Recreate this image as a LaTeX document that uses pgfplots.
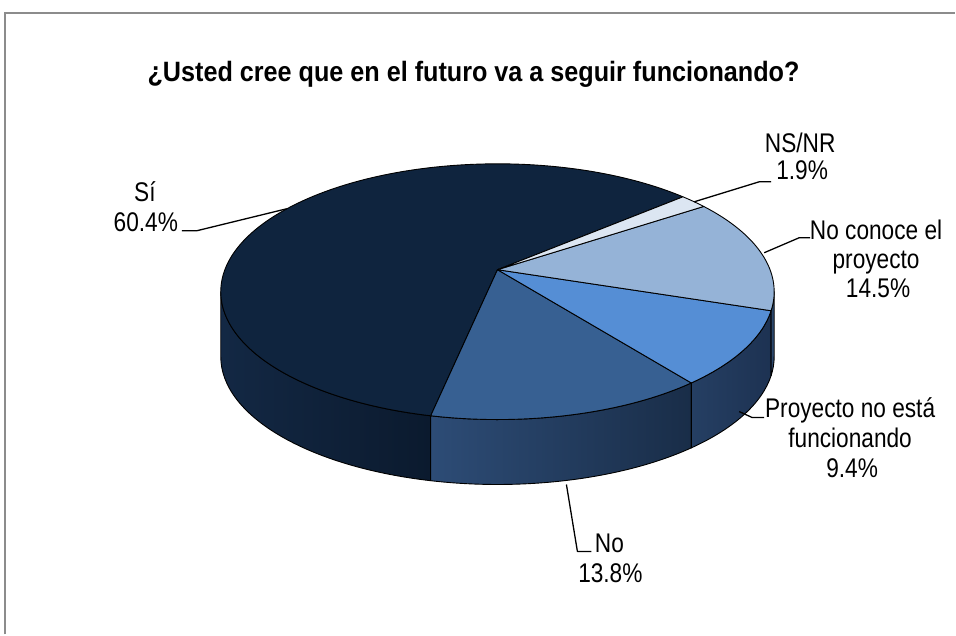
\documentclass[border=0pt]{standalone}
\usepackage{pgfplots}
\pgfplotsset{compat=1.18}
\usepackage{pgfplotstable}
\usepackage{fontspec}
\setmainfont{Liberation Sans}
\newfontfamily\titlefont{Liberation Sans}[FakeStretch=0.9]
\newfontfamily\lblfont{Liberation Sans}[FakeStretch=0.84]

% top colours
\definecolor{top0}{HTML}{0F243E}
\definecolor{top1}{HTML}{376092}
\definecolor{top2}{HTML}{558ED5}
\definecolor{top3}{HTML}{95B3D7}
\definecolor{top4}{HTML}{DCE6F2}
% side colours (left / right of gradient)
\definecolor{sl0}{HTML}{132844}
\definecolor{sr0}{HTML}{0B1A2E}
\definecolor{sl1}{HTML}{2D4C76}
\definecolor{sr1}{HTML}{192D48}
\definecolor{sl2}{HTML}{253F63}
\definecolor{sr2}{HTML}{1D3252}
\definecolor{sl3}{HTML}{2E4A70}
\definecolor{sr3}{HTML}{253E60}
\definecolor{sl4}{HTML}{8A9BB0}
\definecolor{sr4}{HTML}{8A9BB0}
\definecolor{framegray}{HTML}{8C8C8C}

\pgfplotstableread{
label value
Si 60.4
No 13.8
Proyecto 9.4
NoConoce 14.5
NSNR 1.9
}\piedata

\begin{document}
\begin{tikzpicture}
\begin{axis}[
  x=1pt, y=1pt,
  xmin=0, xmax=956, ymin=0, ymax=635,
  hide axis, clip=false,
  scale only axis,
]
% full canvas
\path (axis cs:0,0) rectangle (axis cs:956,635);
% frame (only left and top visible)
\draw[framegray, line width=2pt] (axis cs:5,0) -- (axis cs:5,622) -- (axis cs:956,622);

\pgfplotsextra{
  \def\cx{498}\def\cy{343}\def\rx{277}\def\ry{128}\def\dep{65}\def\vv{0.172}
  \pgfmathsetmacro{\gam}{sqrt(1-\vv*\vv)}
  \pgfmathsetmacro{\apy}{\cy+\vv*\ry}
  \pgfplotstablegetrowsof{\piedata}
  \pgfmathtruncatemacro{\nrows}{\pgfplotsretval-1}
  % side walls
  \xdef\acc{40.8}
  \foreach \i in {0,...,\nrows}{
    \pgfplotstablegetelem{\i}{value}\of\piedata
    \let\val\pgfplotsretval
    \pgfmathsetmacro{\ta}{\acc}
    \pgfmathsetmacro{\tb}{\acc+3.6*\val}
    \xdef\acc{\tb}
    \pgfmathsetmacro{\pa}{atan2((sin(\ta)+\vv)/(1+\vv*sin(\ta)), cos(\ta)*\gam/(1+\vv*sin(\ta)))}
    \pgfmathsetmacro{\pbraw}{atan2((sin(\tb)+\vv)/(1+\vv*sin(\tb)), cos(\tb)*\gam/(1+\vv*sin(\tb)))}
    \pgfmathsetmacro{\pb}{\pa+mod(\pbraw-\pa+720,360)}
    % window [180,360]
    \pgfmathsetmacro{\lo}{max(\pa,180)}
    \pgfmathsetmacro{\hi}{min(\pb,360)}
    \pgfmathtruncatemacro{\vis}{\hi>\lo+0.01}
    \ifnum\vis=1
      \pgfmathsetmacro{\xl}{\cx+\rx*cos(\lo)}
      \pgfmathsetmacro{\yl}{\cy+\ry*sin(\lo)}
      \shadedraw[left color=sl\i, right color=sr\i, draw=black, line width=0.9pt, line join=round]
        (axis cs:\xl,\yl) arc[start angle=\lo, end angle=\hi, x radius=\rx pt, y radius=\ry pt]
        -- ++(0pt,-\dep pt) arc[start angle=\hi, end angle=\lo, x radius=\rx pt, y radius=\ry pt] -- cycle;
    \fi
    % window [-180,0]
    \pgfmathsetmacro{\lo}{max(\pa,-180)}
    \pgfmathsetmacro{\hi}{min(\pb,0)}
    \pgfmathtruncatemacro{\vis}{\hi>\lo+0.01}
    \ifnum\vis=1
      \pgfmathsetmacro{\xl}{\cx+\rx*cos(\lo)}
      \pgfmathsetmacro{\yl}{\cy+\ry*sin(\lo)}
      \shadedraw[left color=sl\i, right color=sr\i, draw=black, line width=0.9pt, line join=round]
        (axis cs:\xl,\yl) arc[start angle=\lo, end angle=\hi, x radius=\rx pt, y radius=\ry pt]
        -- ++(0pt,-\dep pt) arc[start angle=\hi, end angle=\lo, x radius=\rx pt, y radius=\ry pt] -- cycle;
    \fi
  }
  % top faces
  \xdef\acc{40.8}
  \foreach \i in {0,...,\nrows}{
    \pgfplotstablegetelem{\i}{value}\of\piedata
    \let\val\pgfplotsretval
    \pgfmathsetmacro{\ta}{\acc}
    \pgfmathsetmacro{\tb}{\acc+3.6*\val}
    \xdef\acc{\tb}
    \pgfmathsetmacro{\pa}{atan2((sin(\ta)+\vv)/(1+\vv*sin(\ta)), cos(\ta)*\gam/(1+\vv*sin(\ta)))}
    \pgfmathsetmacro{\pbraw}{atan2((sin(\tb)+\vv)/(1+\vv*sin(\tb)), cos(\tb)*\gam/(1+\vv*sin(\tb)))}
    \pgfmathsetmacro{\pb}{\pa+mod(\pbraw-\pa+720,360)}
    \pgfmathsetmacro{\xa}{\cx+\rx*cos(\pa)}
    \pgfmathsetmacro{\ya}{\cy+\ry*sin(\pa)}
    \filldraw[fill=top\i, draw=black, line width=0.9pt, line join=round]
      (axis cs:\cx,\apy) -- (axis cs:\xa,\ya)
      arc[start angle=\pa, end angle=\pb, x radius=\rx pt, y radius=\ry pt] -- cycle;
  }
}

% title
\node[anchor=base, inner sep=0pt, font=\titlefont\bfseries\fontsize{28}{32}\selectfont]
  at (axis cs:474,553) {¿Usted cree que en el futuro va a seguir funcionando?};

% leader lines
\draw[black, line width=1.3pt, line join=round] (axis cs:182,404) -- (axis cs:197,404) -- (axis cs:287,426);
\draw[black, line width=1.3pt, line join=round] (axis cs:772,453) -- (axis cs:760,453) -- (axis cs:695,433);
\draw[black, line width=1.3pt, line join=round] (axis cs:811,397) -- (axis cs:800,397) -- (axis cs:765,382);
\draw[black, line width=1.3pt, line join=round] (axis cs:765,217) -- (axis cs:753,217) -- (axis cs:740,223);
\draw[black, line width=1.3pt, line join=round] (axis cs:592,83) -- (axis cs:578,83) -- (axis cs:567,150);

% labels
\tikzset{lbl/.style={anchor=base, inner sep=0pt, font=\lblfont\fontsize{27}{30}\selectfont}}
\node[lbl] at (axis cs:145,433) {Sí};
\node[lbl] at (axis cs:146,403) {60.4\%};
\node[lbl] at (axis cs:801,482) {NS/NR};
\node[lbl] at (axis cs:803,455) {1.9\%};
\node[lbl] at (axis cs:877,395) {No conoce el};
\node[lbl] at (axis cs:877,366) {proyecto};
\node[lbl] at (axis cs:879,337) {14.5\%};
\node[lbl] at (axis cs:851,217) {Proyecto no está};
\node[lbl] at (axis cs:851,187) {funcionando};
\node[lbl] at (axis cs:853,157) {9.4\%};
\node[lbl] at (axis cs:610,82) {No};
\node[lbl] at (axis cs:611,52) {13.8\%};
\end{axis}
\end{tikzpicture}
\end{document}
